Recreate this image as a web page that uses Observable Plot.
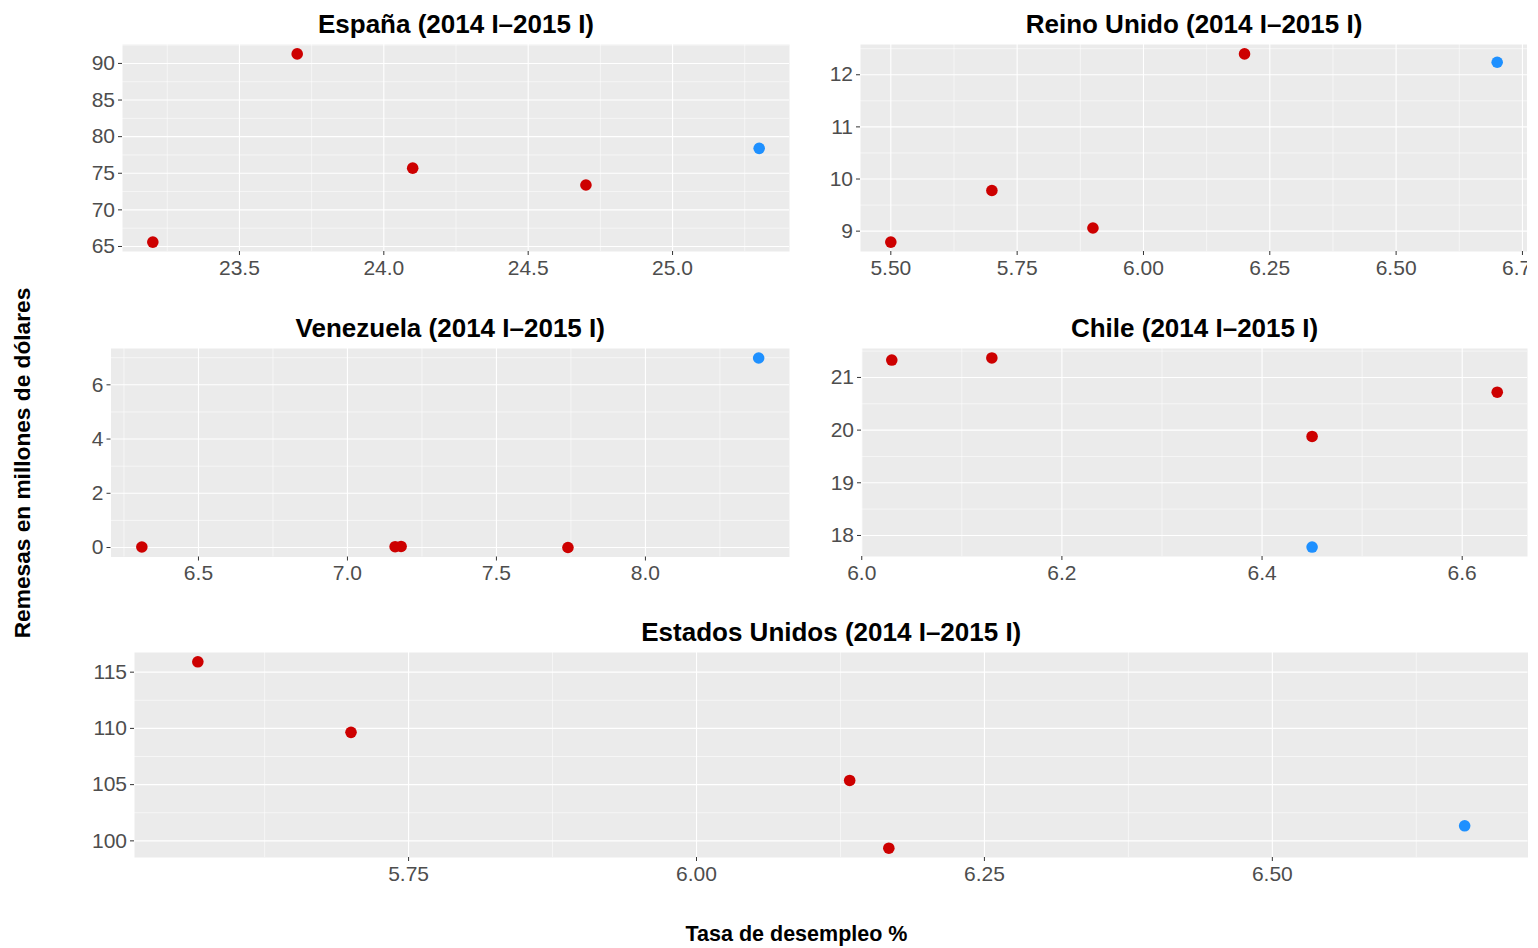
<!DOCTYPE html>
<html><head><meta charset="utf-8">
<script src="https://cdn.jsdelivr.net/npm/d3@7"></script>
<script src="https://cdn.jsdelivr.net/npm/@observablehq/plot@0.6"></script>
<style>
body{margin:0;background:#fff;}
#root{position:relative;width:1538px;height:948px;overflow:hidden;font-family:"Liberation Sans",Arial,Helvetica,sans-serif;}
.panel{position:absolute;overflow:hidden;}
.panel svg{max-width:none !important;}
.atitle{position:absolute;font-weight:bold;line-height:1;white-space:nowrap;color:#000;}
</style></head><body><div id="root"></div>
<script>
// Periods (last one highlighted in blue)
const periods = ["2014 I", "2014 II", "2014 III", "2014 IV", "2015 I"];

// España
const espanaDesempleo = [23.2, 23.7, 24.1, 24.7, 25.3];
const espanaRemesas = [65.6, 91.3, 75.7, 73.4, 78.4];
// Reino Unido
const reinoDesempleo = [5.5, 5.7, 5.9, 6.2, 6.7];
const reinoRemesas = [8.79, 9.78, 9.06, 12.40, 12.24];
// Venezuela
const venezuelaDesempleo = [6.31, 7.16, 7.18, 7.74, 8.38];
const venezuelaRemesas = [0.02, 0.03, 0.04, 0.0, 6.99];
// Chile
const chileDesempleo = [6.03, 6.13, 6.45, 6.635, 6.45];
const chileRemesas = [21.33, 21.37, 19.88, 20.72, 17.78];
// Estados Unidos
const eeuuDesempleo = [5.567, 5.7, 6.133, 6.167, 6.667];
const eeuuRemesas = [115.92, 109.65, 105.37, 99.35, 101.34];

// Tick values
const espanaXTicks = [23.5, 24.0, 24.5, 25.0];
const espanaYTicks = [65, 70, 75, 80, 85, 90];
const reinoXTicks = [5.5, 5.75, 6.0, 6.25, 6.5, 6.75];
const reinoYTicks = [9, 10, 11, 12];
const venezuelaXTicks = [6.5, 7.0, 7.5, 8.0];
const venezuelaYTicks = [0, 2, 4, 6];
const chileXTicks = [6.0, 6.2, 6.4, 6.6];
const chileYTicks = [18, 19, 20, 21];
const eeuuXTicks = [5.75, 6.0, 6.25, 6.5];
const eeuuYTicks = [100, 105, 110, 115];

const titles = {
  es: "España (2014 I–2015 I)",
  uk: "Reino Unido (2014 I–2015 I)",
  ve: "Venezuela (2014 I–2015 I)",
  cl: "Chile (2014 I–2015 I)",
  us: "Estados Unidos (2014 I–2015 I)"
};
const yTitle = "Remesas en millones de dólares";
const xTitle = "Tasa de desempleo %";

const RED = "#CD0000", BLUE = "#1E90FF";
const FONT = '"Liberation Sans", Arial, Helvetica, sans-serif';

function expand(ext) { const r = ext[1] - ext[0]; return [ext[0] - 0.05 * r, ext[1] + 0.05 * r]; }
function minorTicks(ticks, dom) {
  const step = ticks[1] - ticks[0];
  const out = [];
  for (let v = ticks[0] - step / 2; v <= ticks[ticks.length - 1] + step / 2 + 1e-9; v += step) {
    if (v >= dom[0] && v <= dom[1]) out.push(+v.toFixed(6));
  }
  return out;
}

function panel(o) {
  const data = o.xs.map((x, i) => ({x, y: o.ys[i], period: periods[i]}));
  const xd = expand(d3.extent(o.xs)), yd = expand(d3.extent(o.ys));
  const xt = o.xTicks.filter(v => v >= xd[0] && v <= xd[1]);
  const yt = o.yTicks.filter(v => v >= yd[0] && v <= yd[1]);
  const chart = Plot.plot({
    width: o.width, height: o.height,
    marginLeft: o.mL, marginRight: o.mR, marginTop: o.mT, marginBottom: o.mB,
    style: {background: "transparent", fontFamily: FONT, overflow: "visible", maxWidth: "none"},
    x: {domain: xd, label: null},
    y: {domain: yd, label: null},
    marks: [
      Plot.frame({fill: "#EBEBEB", stroke: null}),
      Plot.gridX(minorTicks(xt, xd), {stroke: "white", strokeOpacity: 1, strokeWidth: 0.55}),
      Plot.gridY(minorTicks(yt, yd), {stroke: "white", strokeOpacity: 1, strokeWidth: 0.55}),
      Plot.gridX(xt, {stroke: "white", strokeOpacity: 1, strokeWidth: 1.1}),
      Plot.gridY(yt, {stroke: "white", strokeOpacity: 1, strokeWidth: 1.1}),
      Plot.axisX(xt, {tickFormat: d3.format(o.xFmt), tickSize: 4, tickPadding: 4.5, fontSize: 21, fill: "#4D4D4D", stroke: "#333333", label: null}),
      Plot.axisY(yt, {tickFormat: d3.format("d"), tickSize: 4, tickPadding: 3.5, fontSize: 21, fill: "#4D4D4D", stroke: "#333333", label: null}),
      Plot.dot(data, {x: "x", y: "y", r: 5.8, fill: d => d.period === "2015 I" ? BLUE : RED, stroke: null}),
      Plot.text([o.title], {text: d => d, frameAnchor: "top", lineAnchor: "middle", dy: -19.5, fontSize: 26, fontWeight: "bold", fill: "black"})
    ]
  });
  const div = document.createElement("div");
  div.className = "panel";
  div.style.left = o.left + "px";
  div.style.top = o.top + "px";
  div.style.width = (o.clipW || o.width) + "px";
  div.style.height = o.height + "px";
  div.appendChild(chart);
  document.getElementById("root").appendChild(div);
}

panel({title: titles.es, xs: espanaDesempleo, ys: espanaRemesas, xTicks: espanaXTicks, yTicks: espanaYTicks, xFmt: ".1f",
  left: 40, top: 0, width: 760, height: 290, mL: 82, mR: 11, mT: 44, mB: 39});
panel({title: titles.uk, xs: reinoDesempleo, ys: reinoRemesas, xTicks: reinoXTicks, yTicks: reinoYTicks, xFmt: ".2f",
  left: 800, top: 0, width: 738, height: 290, mL: 60, mR: 11, mT: 44, mB: 39, clipW: 727});
panel({title: titles.ve, xs: venezuelaDesempleo, ys: venezuelaRemesas, xTicks: venezuelaXTicks, yTicks: venezuelaYTicks, xFmt: ".1f",
  left: 40, top: 300, width: 760, height: 300, mL: 70.5, mR: 11, mT: 48, mB: 43.5});
panel({title: titles.cl, xs: chileDesempleo, ys: chileRemesas, xTicks: chileXTicks, yTicks: chileYTicks, xFmt: ".1f",
  left: 800, top: 300, width: 738, height: 300, mL: 61, mR: 11, mT: 48, mB: 44});
panel({title: titles.us, xs: eeuuDesempleo, ys: eeuuRemesas, xTicks: eeuuXTicks, yTicks: eeuuYTicks, xFmt: ".2f",
  left: 40, top: 605, width: 1498, height: 295, mL: 94, mR: 10.5, mT: 47, mB: 43});

const root = document.getElementById("root");
const yt = document.createElement("div");
yt.className = "atitle";
yt.textContent = yTitle;
yt.style.fontSize = "22.7px";
yt.style.left = "22px"; yt.style.top = "462.5px";
yt.style.transform = "translate(-50%,-50%) rotate(-90deg)";
root.appendChild(yt);
const xtl = document.createElement("div");
xtl.className = "atitle";
xtl.textContent = xTitle;
xtl.style.fontSize = "21.5px";
xtl.style.left = "796.5px"; xtl.style.top = "935px";
xtl.style.transform = "translate(-50%,-50%)";
root.appendChild(xtl);
</script></body></html>
